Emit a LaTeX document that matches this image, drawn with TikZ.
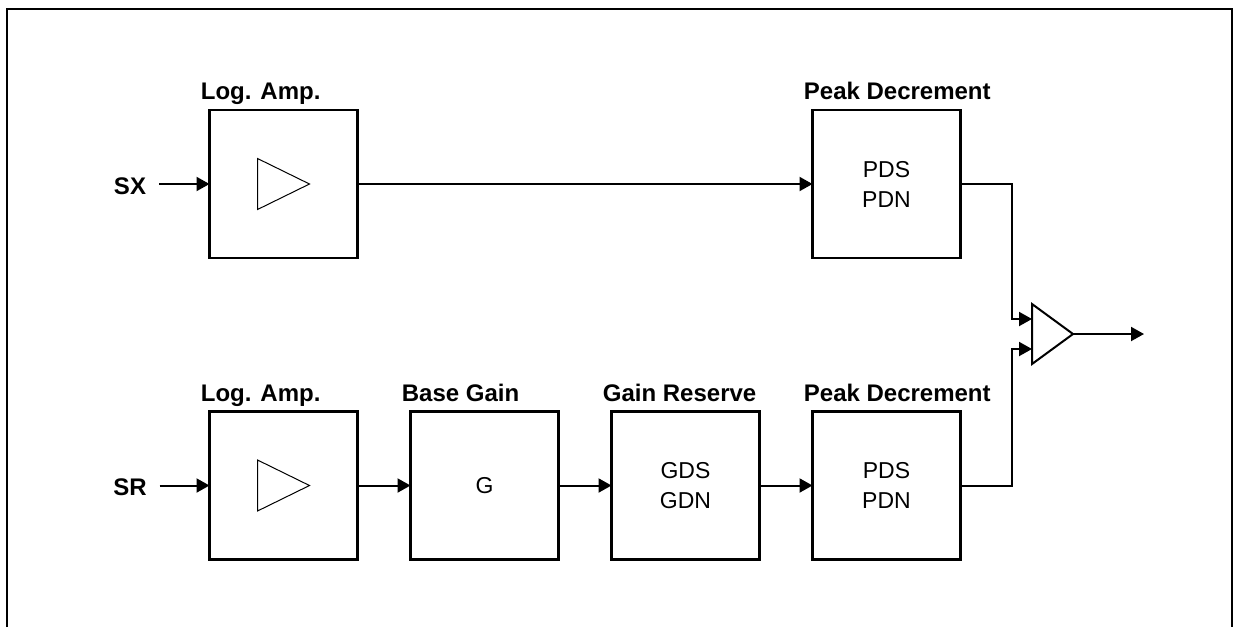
\documentclass[tikz,border=0pt]{standalone}
\usepackage{fontspec}
\setmainfont{Liberation Sans}
\usetikzlibrary{arrows.meta,positioning}
\tikzstyle{arrow} = [line width=1pt,->,>={Triangle[length=6.5pt,width=7pt]}]
\tikzstyle{blk} = [draw,line width=1.3pt,minimum size=74pt,inner sep=0pt,outer sep=0pt,align=center,font=\fontsize{11.5}{15}\selectfont]
\tikzstyle{lbl} = [inner sep=0pt,text depth=0pt,font=\fontsize{12}{14}\selectfont\bfseries]
\tikzstyle{sig} = [inner ysep=0pt,inner xsep=6.3pt,font=\fontsize{12}{14}\selectfont\bfseries]

\begin{document}
\begin{tikzpicture}[x=0.5pt,y=-0.5pt]
    \useasboundingbox (0,0) rectangle (1234,627);
    % frame, open at the bottom
    \draw[line width=1pt] (7,627) -- (7,9) -- (1232,9) -- (1232,627);
    % create the blocks
    \node (amp1)[blk] at (283.5,184) {};
    \node (amp2)[blk, below=76.75pt of amp1] {};
    \node (gain)[blk, right=26.5pt of amp2] {G};
    \node (res)[blk, right=26.5pt of gain] {GDS\\GDN};
    \node (pd2)[blk, right=26.5pt of res] {PDS\\PDN};
    \node (pd1)[blk, above=76.75pt of pd2] {PDS\\PDN};
    \node (mix)[minimum width=20.5pt,minimum height=30pt,inner sep=0pt,outer sep=0pt] at (1052.5,334) {};
    \coordinate (out) at (1144,334);
    % block titles
    \node (lamp1)[lbl, above right=5pt and -4.5pt of amp1.north west] {Log. Amp.};
    \node (lamp2)[lbl, above right=5pt and -4.5pt of amp2.north west] {Log. Amp.};
    \node (lgain)[lbl, above right=5pt and -4.5pt of gain.north west] {Base Gain};
    \node (lres)[lbl, above right=5pt and -4.5pt of res.north west] {Gain Reserve};
    \node (lpd1)[lbl, above right=5pt and -4.5pt of pd1.north west] {Peak Decrement};
    \node (lpd2)[lbl, above right=5pt and -4.5pt of pd2.north west] {Peak Decrement};
    % inputs
    \node (sx)[sig] at (130,186.5) {SX};
    \node (sr)[sig] at (130,487.5) {SR};
    % amplifier symbols
    \foreach \b in {amp1,amp2}
        \draw[line width=0.5pt] ([shift={(-26,-25.5)}]\b.center) -- ([shift={(26,0)}]\b.center) -- ([shift={(-26,25.5)}]\b.center) -- cycle;
    \draw[line width=1pt] (mix.north west) -- (mix.east) -- (mix.south west) -- cycle;
    % connect the nodes
    \draw[arrow] (sx.east |- amp1.west) -- (amp1.west);
    \draw[arrow] (sr.east |- amp2.west) -- (amp2.west);
    \draw[arrow] (amp1.east) -- (pd1.west);
    \draw[arrow] (amp2.east) -- (gain.west);
    \draw[arrow] (gain.east) -- (res.west);
    \draw[arrow] (res.east) -- (pd2.west);
    \draw[arrow] (pd1.east) -| ([shift={(-20,-15)}]mix.west) -- ([shift={(0,-15)}]mix.west);
    \draw[arrow] (pd2.east) -| ([shift={(-20,15)}]mix.west) -- ([shift={(0,15)}]mix.west);
    \draw[arrow] (mix.east) -- (out);
\end{tikzpicture}
\end{document}
